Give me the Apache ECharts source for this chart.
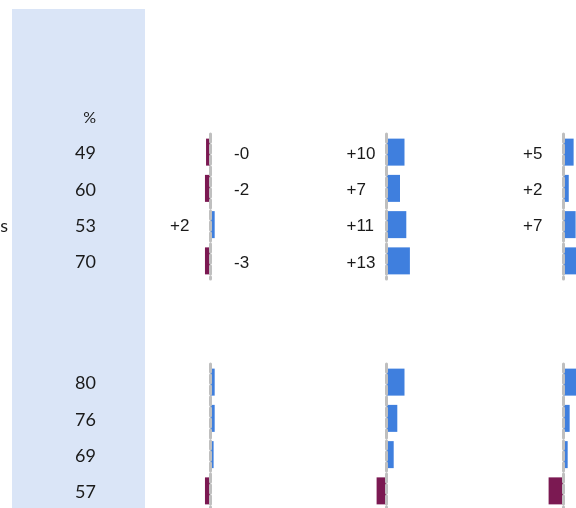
<!DOCTYPE html>
<html><head><meta charset="utf-8">
<script src="https://cdn.jsdelivr.net/npm/echarts@6/dist/echarts.min.js"></script>
<style>html,body{margin:0;padding:0;background:#fff}#c{width:576px;height:508px}</style>
</head><body><div id="c"></div>
<script>
// Rows of each group
const rows = ['r1', 'r2', 'r3', 'r4'];
// Visible (cut-off) row names on the left
const namesTop = ['', '', 's', ''];
const namesBottom = ['', '', '', ''];
// Share values shown in the shaded column (%)
const shareTop = [49, 60, 53, 70];
const shareBottom = [80, 76, 69, 57];
const shareHeader = '%';
// Change bars, three panels, top group
const changeTop1 = [-2.2, -2.8, 2.6, -2.8];
const changeTop2 = [10, 7.5, 11, 13];
const changeTop3 = [5.9, 3.2, 7, 9];
// Value labels of the top group
const labelTop1 = ['-0', '-2', '+2', '-3'];
const labelTop2 = ['+10', '+7', '+11', '+13'];
const labelTop3 = ['+5', '+2', '+7', ''];
// Change bars, bottom group (no labels)
const changeBottom1 = [2.6, 2.6, 2, -2.8];
const changeBottom2 = [10, 6, 4, -5.5];
const changeBottom3 = [7.5, 3.7, 2.6, -8];

const BLUE = '#3f7fde', PURPLE = '#7b1952', TXT = '#1a1a1a';
const groupTops = [134, 364];
const groupH = 145;
const zeros = [210, 386.5, 563];
const axisMax = [20, 20, 7];
const PX = 1.8; // pixels per unit

const grids = [], xAxes = [], yAxes = [], series = [];

function textColumn(left, top, labels) {
  grids.push({left: left, top: top + 1.5, width: 20, height: groupH, outerBoundsMode: 'none', containLabel: false});
  const gi = grids.length - 1;
  xAxes.push({type: 'value', gridIndex: gi, min: 0, max: 1, show: false});
  yAxes.push({type: 'category', gridIndex: gi, inverse: true, position: 'left',
    data: labels,
    axisLine: {show: false}, axisTick: {show: false},
    axisLabel: {margin: 8, fontFamily: 'Lato', fontSize: 18, color: TXT}});
}
// shaded column values and the cut-off row names
textColumn(104, groupTops[0], shareTop.map(String));
textColumn(104, groupTops[1], shareBottom.map(String));
textColumn(16, groupTops[0], namesTop);
textColumn(16, groupTops[1], namesBottom);

const panelData = [
  [changeTop1, labelTop1, changeBottom1],
  [changeTop2, labelTop2, changeBottom2],
  [changeTop3, labelTop3, changeBottom3]
];

panelData.forEach((pd, p) => {
  [0, 1].forEach(g => {
    grids.push({left: zeros[p] - 20 * PX, top: groupTops[g], width: (20 + axisMax[p]) * PX, height: groupH,
      outerBoundsMode: 'none', containLabel: false});
    const gi = grids.length - 1;
    xAxes.push({type: 'value', gridIndex: gi, min: -20, max: axisMax[p], show: false});
    yAxes.push({type: 'category', gridIndex: gi, inverse: true, data: rows, z: 5, position: 'left',
      axisLine: {show: true, onZero: true, lineStyle: {color: '#bfbfbf', width: 3, type: [8, 3]}},
      axisTick: {show: false}, axisLabel: {show: false}});
    const vals = g === 0 ? pd[0] : pd[2];
    const labs = g === 0 ? pd[1] : null;
    series.push({
      type: 'bar', xAxisIndex: xAxes.length - 1, yAxisIndex: yAxes.length - 1,
      barWidth: 27, animation: false, clip: false,
      data: vals.map((v, i) => ({
        value: v,
        itemStyle: {color: v >= 0 ? BLUE : PURPLE},
        label: {
          show: !!(labs && labs[i]),
          formatter: labs ? labs[i] : '',
          position: v >= 0 ? 'left' : 'right',
          distance: v >= 0 ? 40 : 24,
          offset: [0, 2],
          align: 'left', verticalAlign: 'middle',
          fontFamily: 'Liberation Sans', fontSize: 17, color: TXT
        }
      }))
    });
  });
});

const chart = echarts.init(document.getElementById('c'), null, {renderer: 'canvas'});
chart.setOption({
  animation: false,
  backgroundColor: '#ffffff',
  graphic: [
    {type: 'rect', z: -10, shape: {x: 12, y: 9, width: 133, height: 499}, style: {fill: '#dae5f7'}},
    {type: 'text', z: 10, x: 96, y: 118, style: {text: shareHeader, align: 'right', verticalAlign: 'middle',
      font: '16px Lato', fill: TXT}}
  ],
  grid: grids, xAxis: xAxes, yAxis: yAxes, series: series
});
</script></body></html>
